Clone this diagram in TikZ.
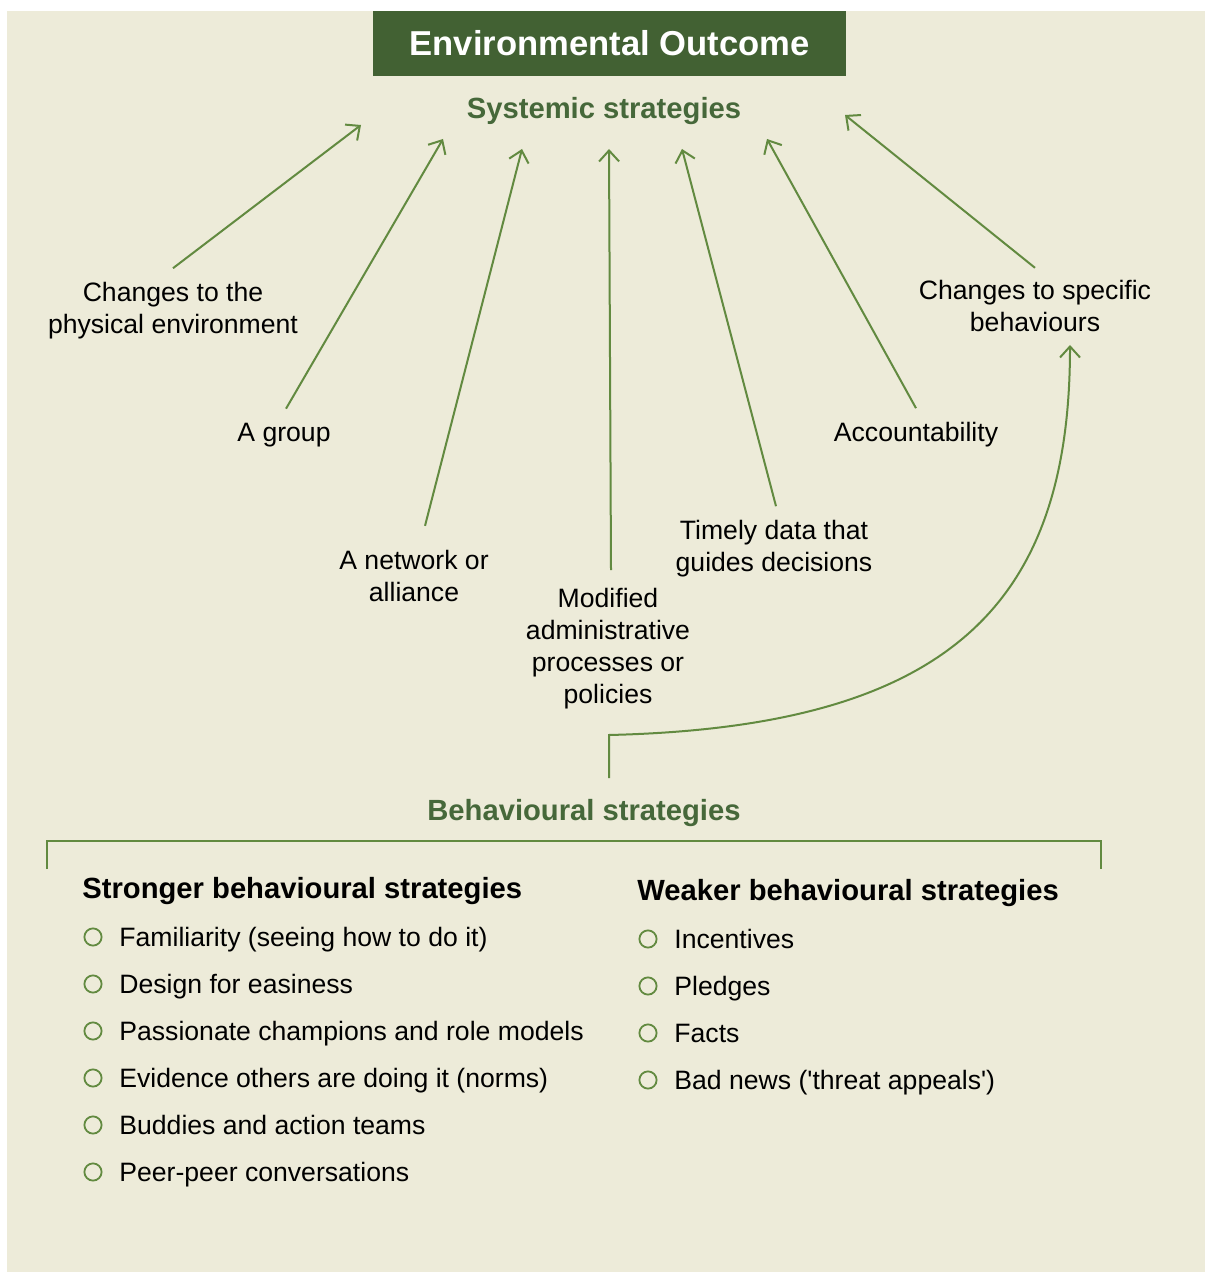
\documentclass[tikz,border=0pt]{standalone}
\usepackage{fontspec}
\setmainfont{Liberation Sans}
\usetikzlibrary{arrows.meta}
\definecolor{bgcream}{RGB}{237,235,217}
\definecolor{darkgreen}{RGB}{66,97,51}
\definecolor{leafgreen}{RGB}{98,138,64}
\definecolor{headgreen}{RGB}{70,104,58}

\begin{document}
\begin{tikzpicture}[x=0.5pt, y=-0.5pt,
    lbl/.style={inner sep=0pt, align=center, font=\fontsize{13.3}{16}\selectfont},
    arr/.style={draw=leafgreen, line width=1pt, -{Straight Barb[length=5.5pt,width=10pt]}},
    head/.style={inner sep=0pt, text height=12pt, text depth=1.6pt, font=\fontsize{14.6}{17}\selectfont\bfseries},
    item/.style={inner sep=0pt, anchor=west, text height=11pt, text depth=2pt, font=\fontsize{13.3}{16}\selectfont},
    bullet/.style={circle, draw=leafgreen, line width=0.9pt, minimum size=8.6pt, inner sep=0pt}
    ]
  \useasboundingbox (0,0) rectangle (1205,1272);
  \fill[bgcream] (7,11) rectangle (1205,1272);

  \node[fill=darkgreen, text=white, minimum width=236.5pt, minimum height=32.5pt, inner sep=0pt,
    font=\fontsize{17.3}{20}\selectfont\bfseries] (outcome) at (609.5,43.5) {Environmental Outcome};
  \node[head, text=headgreen] (systemic) at (604,108) {Systemic strategies};

  % where the arrows end
  \coordinate (t1) at (361,125);
  \coordinate (t2) at (443,139);
  \coordinate (t3) at (522,149);
  \coordinate (t4) at (609,149);
  \coordinate (t5) at (682,149);
  \coordinate (t6) at (767,139);
  \coordinate (t7) at (845,115);

  % systemic strategies
  \node[lbl] (phys) at (173,311) {Changes to the\\physical environment};
  \node[lbl] (group) at (284,435) {A group};
  \node[lbl] (network) at (414,576) {A network or\\alliance};
  \node[lbl] (admin) at (608,649) {Modified\\administrative\\processes or\\policies};
  \node[lbl] (data) at (774,549) {Timely data that\\guides decisions};
  \node[lbl] (account) at (916,435) {Accountability};
  \node[lbl] (specific) at (1035,306) {Changes to specific\\behaviours};

  \draw[arr] ([yshift=7pt]phys.north) -- (t1);
  \draw[arr] ([xshift=1pt,yshift=7pt]group.north) -- (t2);
  \draw[arr] ([xshift=5.5pt,yshift=12pt]network.north) -- (t3);
  \draw[arr] ([xshift=1.5pt,yshift=9pt]admin.north) -- (t4);
  \draw[arr] ([xshift=1pt,yshift=7pt]data.north) -- (t5);
  \draw[arr] ([yshift=7pt]account.north) -- (t6);
  \draw[arr] ([yshift=6pt]specific.north) -- (t7);

  % behavioural strategies
  \node[head, text=headgreen] (behav) at (584,810) {Behavioural strategies};
  \coordinate (bend) at (609,735);
  \coordinate (t8) at (1070,345);
  \draw[arr] ([yshift=9pt]bend |- behav.north) -- (bend)
    .. controls +(340,-8) and +(0,260) .. (t8);

  \draw[leafgreen, line width=1pt] (47,869) -- (47,841) -- (1101,841) -- (1101,869);

  \node[head, anchor=west] (stronger) at (82,888) {Stronger behavioural strategies};
  \node[head, anchor=west] (weaker) at (637,890) {Weaker behavioural strategies};

  \foreach \txt [count=\i] in {{Familiarity (seeing how to do it)}, {Design for easiness},
      {Passionate champions and role models}, {Evidence others are doing it (norms)},
      {Buddies and action teams}, {Peer-peer conversations}}{
    \node[bullet] (sb\i) at (93,{890+47*\i}) {};
    \node[item] (s\i) at (119,{890+47*\i}) {\txt};
  }
  \foreach \txt [count=\i] in {{Incentives}, {Pledges}, {Facts},
      {Bad news (\textquotesingle threat appeals\textquotesingle)}}{
    \node[bullet] (wb\i) at (648,{892+47*\i}) {};
    \node[item] (w\i) at (674,{892+47*\i}) {\txt};
  }
\end{tikzpicture}
\end{document}
